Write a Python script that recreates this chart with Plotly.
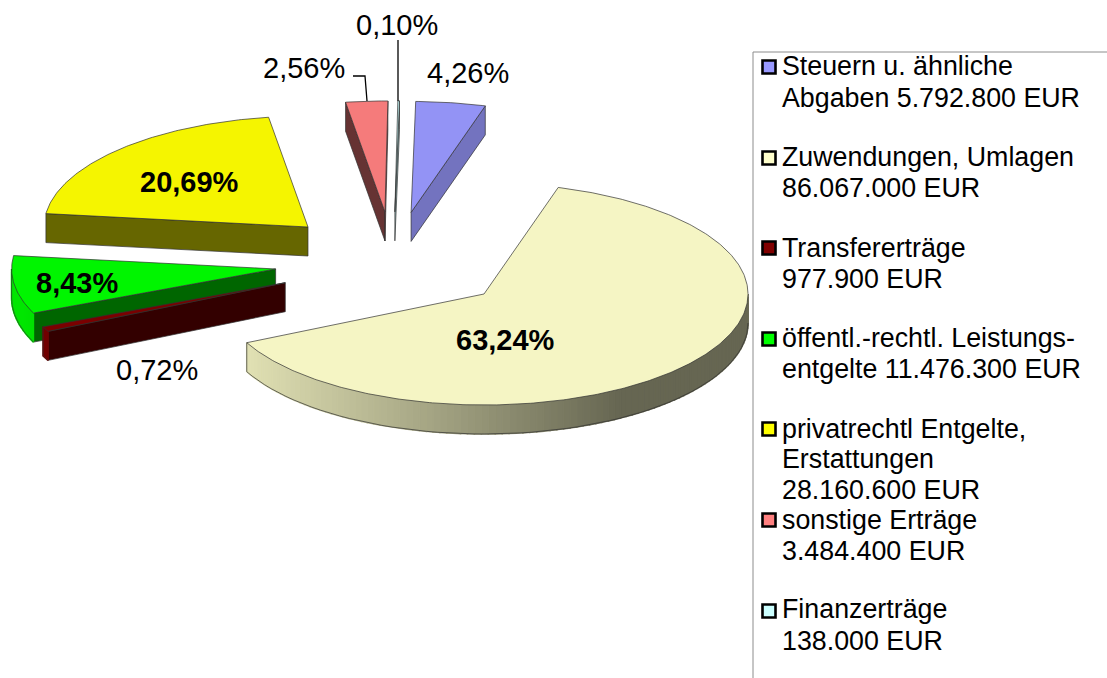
import math
import plotly.graph_objects as go

# ---- data ----
categories = ["Steuern u. ähnliche<br>Abgaben 5.792.800 EUR",
              "Zuwendungen, Umlagen<br>86.067.000 EUR",
              "Transfererträge<br>977.900 EUR",
              "öffentl.-rechtl. Leistungs-<br>entgelte 11.476.300 EUR",
              "privatrechtl Entgelte,<br>Erstattungen<br>28.160.600 EUR",
              "sonstige Erträge<br>3.484.400 EUR",
              "Finanzerträge<br>138.000 EUR"]
values = [5792800, 86067000, 977900, 11476300, 28160600, 3484400, 138000]
pct_labels = ["4,26%", "63,24%", "0,72%", "8,43%", "20,69%", "2,56%", "0,10%"]
colors = [(153, 153, 255), (255, 255, 204), (128, 0, 0), (0, 255, 0),
          (255, 255, 0), (255, 128, 128), (204, 255, 255)]

# ---- pie geometry (style) ----
CX, CY = 393.2, 261.8
RX, RY = 264.0, 111.0
DEPTH = 29.0
EXPLODE = 0.45
START = 1.0
TOP_SHADE = 0.96
EDGE = "#303030"

label_pos = [(468, 73, False), (505, 340, True), (157, 370, False), (77, 283, True),
             (189, 182, True), (304, 68, False), (397, 25, False)]
swatch_y = [67, 158, 248, 339, 429, 520, 611]
legend_baselines = [[75, 107], [166, 197], [257, 288], [347, 378],
                    [438, 468, 499], [529, 560], [618, 650]]
BASE_TO_MID = 9.3


def rgb(c, f=1.0):
    return "rgb(%d,%d,%d)" % tuple(min(255, round(v * f)) for v in c)


def pt(ax, ay, deg):
    r = math.radians(deg)
    return ax + RX * math.sin(r), ay - RY * math.cos(r)


def rim_shade(deg):
    s = math.sin(math.radians(deg))
    return max(0.4, min(0.9, 0.88 - 0.48 * (s + 0.9) / 1.42))


def poly(xs, ys, fill, line=None, width=0.7):
    return go.Scatter(x=xs, y=ys, mode="lines", fill="toself", fillcolor=fill,
                      line=dict(color=line or fill, width=width), hoverinfo="skip",
                      showlegend=False)


total = sum(values)
slices = []
a0 = START
for i, v in enumerate(values):
    sweep = 360.0 * v / total
    mid = math.radians(a0 + sweep / 2)
    ax = CX + EXPLODE * RX * math.sin(mid)
    ay = CY - EXPLODE * RY * math.cos(mid)
    slices.append(dict(i=i, a0=a0, a1=a0 + sweep, ax=ax, ay=ay))
    a0 += sweep

traces = []
for s in sorted(slices, key=lambda d: d["ay"]):
    c = colors[s["i"]]
    ax, ay, t0, t1 = s["ax"], s["ay"], s["a0"], s["a1"]
    # radial walls, only where they face the viewer
    for edge_t, is_end in ((t0, False), (t1, True)):
        px, py = pt(ax, ay, edge_t)
        n = math.radians(edge_t + (90 if is_end else -90))
        if -math.cos(n) > 0:
            f = 0.75 if (is_end and edge_t % 360 < 90) else 0.4
            traces.append(poly([ax, px, px, ax, ax], [ay, py, py + DEPTH, ay + DEPTH, ay],
                               rgb(c, f), EDGE))
    # outer rim, split into shaded strips on the front half
    lo, hi = max(t0, 90.0), min(t1, 270.0)
    if hi > lo:
        n = max(1, int((hi - lo) / 1.5))
        for k in range(n):
            u0 = lo + (hi - lo) * k / n
            u1 = lo + (hi - lo) * (k + 1) / n
            p0, p1 = pt(ax, ay, u0), pt(ax, ay, u1)
            col = rgb(c, rim_shade((u0 + u1) / 2))
            traces.append(poly([p0[0], p1[0], p1[0], p0[0], p0[0]],
                               [p0[1], p1[1], p1[1] + DEPTH, p0[1] + DEPTH, p0[1]], col, col, 1.6))
        arc = [pt(ax, ay, lo + (hi - lo) * k / 60) for k in range(61)]
        traces.append(go.Scatter(x=[q[0] for q in arc] + ([arc[-1][0]]),
                                 y=[q[1] + DEPTH for q in arc] + ([arc[-1][1]]),
                                 mode="lines", line=dict(color=EDGE, width=0.7),
                                 hoverinfo="skip", showlegend=False))
    # top face
    m = max(2, int((t1 - t0) * 1.5))
    arc = [pt(ax, ay, t0 + (t1 - t0) * k / m) for k in range(m + 1)]
    traces.append(poly([ax] + [q[0] for q in arc] + [ax], [ay] + [q[1] for q in arc] + [ay],
                       rgb(c, TOP_SHADE), EDGE))

fig = go.Figure(traces)

# leader lines
for lx, ly in (([398, 398], [40, 101]), ([353, 365, 367], [76, 76, 101])):
    fig.add_trace(go.Scatter(x=lx, y=ly, mode="lines", line=dict(color="#000", width=1.3),
                             hoverinfo="skip", showlegend=False))

# legend box: left + top rule
fig.add_trace(go.Scatter(x=[753, 753, 1107], y=[678, 52, 52], mode="lines",
                         line=dict(color="#8c8c8c", width=1), hoverinfo="skip", showlegend=False))
# legend swatches
fig.add_trace(go.Scatter(x=[769] * len(colors), y=swatch_y, mode="markers",
                         marker=dict(symbol="square", size=13, color=[rgb(c) for c in colors],
                                     line=dict(color="#000", width=2.6)),
                         hoverinfo="skip", showlegend=False))

ann = []
for txt, (x, y, bold) in zip(pct_labels, label_pos):
    ann.append(dict(x=x, y=y, text="<b>%s</b>" % txt if bold else txt, showarrow=False,
                    xanchor="center", yanchor="middle",
                    font=dict(family="Liberation Sans", size=29, color="#000")))
for txt, bases in zip(categories, legend_baselines):
    for ln, b in zip(txt.split("<br>"), bases):
        ann.append(dict(x=779.5, y=b - BASE_TO_MID, text=ln, showarrow=False,
                        xanchor="left", yanchor="middle",
                        font=dict(family="Liberation Sans", size=26.8, color="#000")))

fig.update_layout(width=1107, height=678, margin=dict(l=0, r=0, t=0, b=0),
                  paper_bgcolor="white", plot_bgcolor="white", showlegend=False,
                  annotations=ann,
                  xaxis=dict(range=[0, 1107], visible=False, fixedrange=True),
                  yaxis=dict(range=[678, 0], visible=False, fixedrange=True))
fig.write_html("out.html", post_script="document.body.style.margin='0';document.body.style.overflow='hidden';",
               config=dict(displayModeBar=False))
